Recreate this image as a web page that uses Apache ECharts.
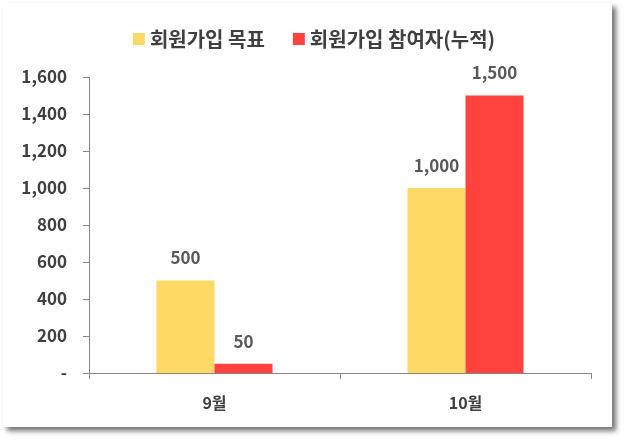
<!DOCTYPE html>
<html>
<head>
<meta charset="utf-8">
<script src="https://cdn.jsdelivr.net/npm/echarts@6/dist/echarts.min.js"></script>
<style>
  html, body { margin: 0; padding: 0; background: #fff; }
  #card { position: absolute; left: 3px; top: 3px; width: 609px; height: 424px;
          background: #fff; box-shadow: 4px 4px 5px rgba(0,0,0,0.55); }
  #chart { position: absolute; left: 0; top: 0; width: 628px; height: 441px; }
</style>
</head>
<body>
<div id="card"></div>
<div id="chart"></div>
<script>
////--------------------------------------------------------------------////
const months        = ['9월', '10월'];
const target_name   = '회원가입 목표';
const joined_name   = '회원가입 참여자(누적)';
const target_values = [500, 1000];
const joined_values = [50, 1500];
const y_ticks       = [0, 200, 400, 600, 800, 1000, 1200, 1400, 1600];
////--------------------------------------------------------------------////
const font_kr = '"Noto Sans CJK KR", "Noto Sans", sans-serif';

function num_fmt(v) {
    if (v === 0) return '-';
    return String(v).replace(/\B(?=(\d{3})+(?!\d))/g, ',');
}

function bar_series(name, data, color) {
    return {
        name: name,
        type: 'bar',
        data: data,
        barWidth: 58,
        barGap: '0%',
        itemStyle: { color: color },
        label: {
            show: true,
            position: 'top',
            distance: 14,
            color: '#595959',
            fontFamily: font_kr,
            fontSize: 17,
            fontWeight: 'bold',
            formatter: p => num_fmt(p.value)
        }
    };
}

const chart = echarts.init(document.getElementById('chart'), null, {renderer: 'canvas'});
chart.setOption({
    backgroundColor: 'transparent',
    animation: false,
    legend: {
        top: 24,
        left: 'center',
        itemWidth: 12,
        itemHeight: 12,
        itemGap: 28,
        icon: 'rect',
        textStyle: { color: '#404040', fontFamily: font_kr, fontSize: 20, fontWeight: 'bold' },
        data: [target_name, joined_name]
    },
    grid: { left: 89, right: 37, top: 77, bottom: 68, containLabel: false },
    xAxis: {
        type: 'category',
        data: months,
        axisLine: { lineStyle: { color: '#868686', width: 1 } },
        axisTick: { show: true, length: 6, lineStyle: { color: '#868686' } },
        axisLabel: { margin: 22, color: '#404040', fontFamily: font_kr, fontSize: 16, fontWeight: 'bold' }
    },
    yAxis: {
        type: 'value',
        min: y_ticks[0],
        max: y_ticks[y_ticks.length - 1],
        interval: y_ticks[1] - y_ticks[0],
        axisLine: { show: true, lineStyle: { color: '#868686', width: 1 } },
        axisTick: { show: true, length: 6, lineStyle: { color: '#868686' } },
        splitLine: { show: false },
        axisLabel: {
            margin: 22,
            color: '#404040',
            fontFamily: font_kr,
            fontSize: 17,
            fontWeight: 'bold',
            formatter: v => num_fmt(v)
        }
    },
    series: [
        bar_series(target_name, target_values, '#FFD966'),
        bar_series(joined_name, joined_values, '#FF423D')
    ]
});
window.addEventListener('resize', chart.resize);
</script>
</body>
</html>
